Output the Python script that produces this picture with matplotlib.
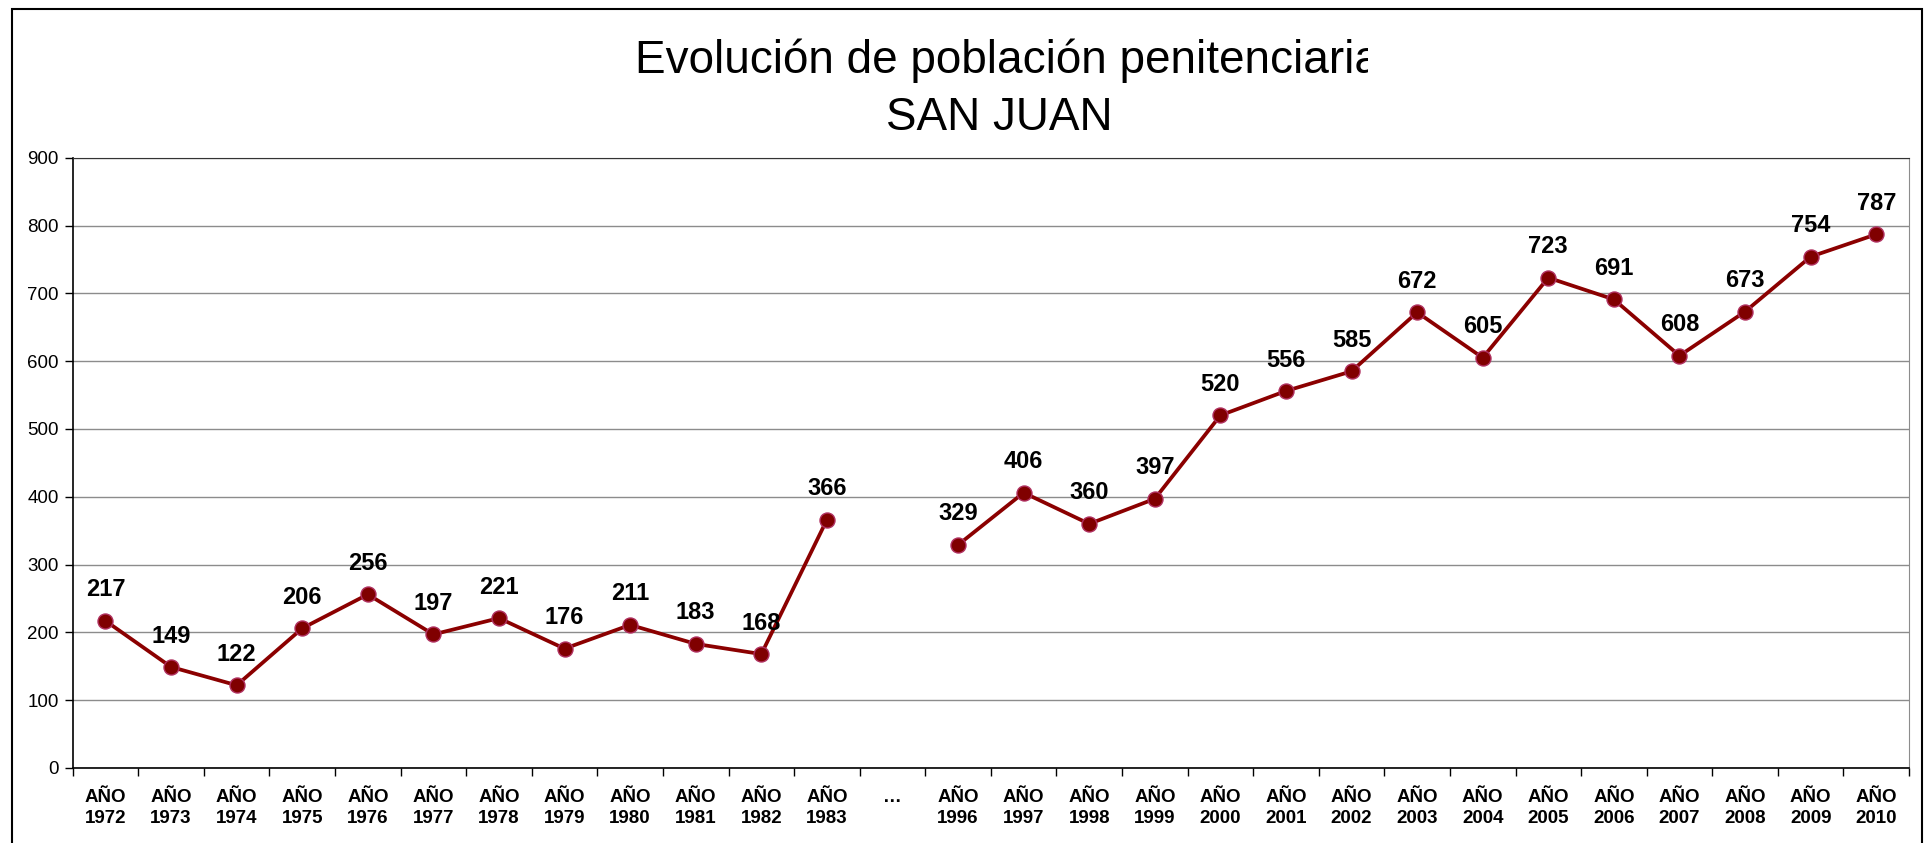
import numpy as np
import matplotlib
matplotlib.use("Agg")
import matplotlib.pyplot as plt
from matplotlib.patches import Rectangle
from matplotlib.transforms import Bbox

plt.rcParams['font.family'] = ['Liberation Sans', 'DejaVu Sans']

years = ["1972", "1973", "1974", "1975", "1976", "1977", "1978", "1979", "1980",
         "1981", "1982", "1983", "…", "1996", "1997", "1998", "1999", "2000",
         "2001", "2002", "2003", "2004", "2005", "2006", "2007", "2008", "2009", "2010"]
values = [217, 149, 122, 206, 256, 197, 221, 176, 211, 183, 168, 366, None,
          329, 406, 360, 397, 520, 556, 585, 672, 605, 723, 691, 608, 673, 754, 787]
yticks = [0, 100, 200, 300, 400, 500, 600, 700, 800, 900]
title_line1 = "Evolución de población penitenciaria"
title_line2 = "SAN JUAN"

W, H = 1930, 843
fig = plt.figure(figsize=(W / 100, H / 100), dpi=100)
ax = fig.add_axes([72.7 / W, 1 - 768 / H, (1909 - 72.7) / W, (768 - 157.7) / H])

n = len(years)
x = np.arange(n) + 0.5
y = np.array([np.nan if v is None else v for v in values], dtype=float)

ax.plot(x, y, color='#8B0000', lw=2.7, marker='o', markersize=10.8,
        markerfacecolor='#800000', markeredgecolor='#B03060', markeredgewidth=1.0,
        zorder=3)

for xi, v in zip(x, values):
    if v is None:
        continue
    ax.annotate(str(v), (xi, v), xytext=(0, 14), textcoords='offset points',
                ha='center', va='bottom', fontsize=17, fontweight='bold',
                color='black')

ax.set_xlim(0, n)
ax.set_ylim(0, 900)
ax.set_yticks(yticks)
ax.set_yticklabels([str(t) for t in yticks], fontsize=13.5)
ax.yaxis.grid(True, color='#8c8c8c', lw=1)
ax.set_axisbelow(True)

ax.set_xticks(x)
labels = ["…" if yr == "…" else "AÑO\n" + yr for yr in years]
ax.set_xticklabels(labels, fontsize=13.5, fontweight='bold', linespacing=1.32,
                   va='top')
ax.set_xticks(np.arange(n + 1), minor=True)
ax.tick_params(axis='x', which='major', length=0, pad=15)
ax.tick_params(axis='x', which='minor', length=6, width=1, color='black')
ax.tick_params(axis='y', length=6, width=1, pad=4, color='black')

for s in ['left', 'bottom']:
    ax.spines[s].set_color('black')
    ax.spines[s].set_linewidth(1.2)
ax.spines['top'].set_color('#333333')
ax.spines['right'].set_color('#8c8c8c')

# outer chart frame
fig.patches.append(Rectangle((12 / W, -0.1), (1922 - 12) / W, 1.1 - 9 / H,
                             transform=fig.transFigure, fill=False,
                             edgecolor='black', lw=1.5))

clip = Bbox.from_extents(0, 0, 1368, H)
t1 = fig.text(635 / W, 1 - 73 / H, title_line1, ha='left', va='baseline',
              fontsize=33)
t1.set_clip_box(clip)
t1.set_clip_on(True)
fig.text(999 / W, 1 - 130 / H, title_line2, ha='center', va='baseline',
         fontsize=33)

fig.savefig("out.png", dpi=100)
